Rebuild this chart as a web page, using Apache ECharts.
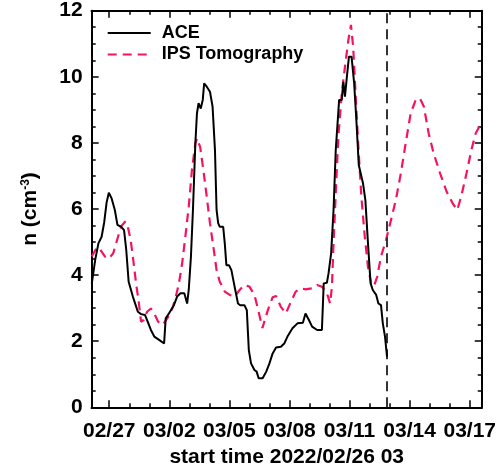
<!DOCTYPE html>
<html>
<head>
<meta charset="utf-8">
<script src="https://cdn.jsdelivr.net/npm/echarts@6/dist/echarts.min.js"></script>
<style>html,body{margin:0;padding:0;background:#fff}#c{width:499px;height:474px}</style>
</head>
<body>
<div id="c"></div>
<script>
// x values: days since 2022/02/26 00:00 (start time 2022/02/26 03)
const aceDays = [0.13,0.3,0.46,0.62,0.75,0.87,0.98,1.12,1.28,1.41,1.6,1.74,1.85,1.97,2.18,2.43,2.59,2.79,2.92,3.08,3.25,3.49,3.74,3.82,3.98,4.23,4.39,4.56,4.75,4.89,4.97,5.08,5.18,5.3,5.38,5.46,5.57,5.67,5.74,5.87,6.03,6.16,6.28,6.36,6.44,6.52,6.69,6.77,6.85,6.98,7.1,7.26,7.43,7.54,7.75,7.87,7.97,8.08,8.25,8.36,8.46,8.66,8.84,9.0,9.16,9.33,9.57,9.74,9.9,10.15,10.4,10.67,10.8,10.97,11.13,11.38,11.62,11.71,11.87,11.95,12.08,12.2,12.31,12.48,12.61,12.69,12.77,12.85,12.9,12.97,13.1,13.23,13.34,13.46,13.67,13.79,13.92,14.05,14.16,14.33,14.44,14.57,14.66,14.77,14.87];
const aceValues = [3.75,4.46,4.96,5.16,5.6,6.2,6.49,6.32,5.97,5.52,5.46,5.36,4.76,3.8,3.35,2.89,2.82,2.79,2.59,2.34,2.14,2.04,1.93,2.69,2.84,3.09,3.35,3.45,3.45,3.14,3.55,4.56,5.97,7.98,8.89,9.2,9.04,9.3,9.8,9.7,9.55,9.1,7.78,5.97,5.57,5.46,5.46,4.96,4.3,4.3,4.15,3.65,3.14,3.09,3.09,2.94,1.73,1.33,1.13,1.08,0.88,0.88,1.08,1.33,1.63,1.81,1.83,1.93,2.14,2.39,2.54,2.56,2.84,2.64,2.44,2.34,2.34,3.75,3.77,4.05,4.66,5.97,7.78,9.3,9.3,9.85,9.4,9.9,10.2,10.61,10.61,9.8,8.69,7.33,6.78,6.27,4.96,3.75,3.55,3.4,3.14,3.09,2.54,2.14,1.53];
const ipsDays = [0.13,0.38,0.54,0.79,0.98,1.2,1.44,1.6,1.8,1.93,2.07,2.18,2.34,2.46,2.59,2.72,2.89,3.08,3.25,3.44,3.66,3.9,4.15,4.31,4.48,4.64,4.8,4.97,5.13,5.3,5.38,5.54,5.7,5.87,6.03,6.2,6.36,6.52,6.77,7.02,7.26,7.51,7.75,8.0,8.25,8.46,8.65,8.92,9.16,9.33,9.57,9.82,10.07,10.31,10.56,10.8,11.13,11.38,11.62,11.87,12.03,12.12,12.2,12.31,12.44,12.61,12.77,12.94,13.07,13.18,13.3,13.43,13.59,13.76,13.92,14.08,14.21,14.38,14.57,14.82,15.07,15.31,15.56,15.8,16.05,16.3,16.51,16.71,16.95,17.2,17.52,17.85,18.15,18.38,18.59,18.84,19.08,19.3,19.58];
const ipsValues = [4.56,4.84,4.78,4.56,4.5,4.66,5.16,5.48,5.62,5.46,5.06,4.56,3.75,3.25,2.59,2.64,2.89,2.99,2.84,2.59,2.49,2.69,2.99,3.3,3.75,4.35,5.16,6.07,7.18,7.98,8.14,7.88,7.18,6.37,5.57,4.86,4.15,3.8,3.5,3.4,3.35,3.55,3.7,3.65,3.4,2.89,2.4,2.94,3.33,3.37,3.04,2.84,3.19,3.5,3.6,3.57,3.6,3.7,3.65,3.45,3.14,3.65,4.96,6.47,8.19,9.5,10.3,11.11,11.57,10.91,9.5,7.98,6.37,5.16,4.25,3.75,3.65,3.95,4.56,5.06,5.67,6.27,7.08,7.98,8.89,9.3,9.35,9.1,8.29,7.68,7.08,6.52,6.17,5.97,6.42,7.08,7.78,8.29,8.6];
const majorTickDays = [1,4,7,10,13,16,19];
const majorTickLabels = ['02/27','03/02','03/05','03/08','03/11','03/14','03/17'];
const minorTickDays = [1,2,3,4,5,6,7,8,9,10,11,12,13,14,15,16,17,18,19];
const markerDay = 14.87;
const yRange = [0, 12];
const xMin = 0.125, xMax = 19.6;
const seriesNames = ['ACE','IPS Tomography'];
const xName = 'start time 2022/02/26 03';

const FONT = "'Liberation Sans', Arial, Helvetica, sans-serif";
const pair = (xs, ys) => xs.map((x, i) => [x, ys[i]]);
const labelMap = {};
majorTickDays.forEach((d, i) => labelMap[d] = majorTickLabels[i]);

function xAx(pos, ticks, len, withLabels) {
  const o = {
    type: 'value', position: pos, min: xMin, max: xMax,
    axisLine: {show: true, onZero: false, lineStyle: {color: '#000', width: 2}},
    axisTick: {show: true, inside: true, length: len, customValues: ticks, lineStyle: {color: '#000', width: 1.5}},
    axisLabel: withLabels ? {show: true, customValues: majorTickDays, margin: 13,
      fontFamily: FONT, fontWeight: 'bold', fontSize: 21, color: '#000',
      formatter: v => labelMap[Math.round(v)] || ''} : {show: false},
    splitLine: {show: false}
  };
  if (withLabels) Object.assign(o, {name: xName, nameLocation: 'middle', nameGap: 39,
    nameTextStyle: {fontFamily: FONT, fontWeight: 'bold', fontSize: 21, color: '#000'}});
  return o;
}
function yAx(pos, withLabels) {
  const o = {
    type: 'value', position: pos, min: yRange[0], max: yRange[1], interval: 2,
    axisLine: {show: true, onZero: false, lineStyle: {color: '#000', width: 2}},
    axisTick: {show: true, inside: true, length: 7, lineStyle: {color: '#000', width: 1.5}},
    minorTick: {show: true, splitNumber: 4, length: 4, lineStyle: {color: '#000', width: 1.5}},
    axisLabel: withLabels ? {show: true, margin: 9, fontFamily: FONT, fontWeight: 'bold', fontSize: 21, color: '#000'} : {show: false},
    splitLine: {show: false}
  };
  if (withLabels) Object.assign(o, {name: 'n (cm{sup|-3})', nameLocation: 'middle', nameGap: 50, nameRotate: 90,
    nameTextStyle: {fontFamily: FONT, fontWeight: 'bold', fontSize: 21, color: '#000',
      rich: {sup: {fontFamily: FONT, fontWeight: 'bold', fontSize: 12, color: '#000', padding: [0, 0, 10, 0]}}}});
  return o;
}

const chart = echarts.init(document.getElementById('c'), null, {renderer: 'canvas'});
chart.setOption({
  animation: false,
  grid: {left: 91.7, right: 12.3, top: 10.7, bottom: 66.7},
  legend: {
    orient: 'vertical', left: 106.7, top: 24, padding: 0, itemWidth: 43, itemHeight: 14, itemGap: 3.5,
    data: seriesNames, itemStyle: {opacity: 0},
    textStyle: {fontFamily: FONT, fontWeight: 'bold', fontSize: 18, color: '#000', lineHeight: 18, padding: [0, 0, 0, 6]}
  },
  xAxis: [xAx('bottom', majorTickDays, 7, true), xAx('bottom', minorTickDays, 4, false),
          xAx('top', majorTickDays, 7, false), xAx('top', minorTickDays, 4, false)],
  yAxis: [yAx('left', true), yAx('right', false)],
  series: [
    {name: seriesNames[1], type: 'line', data: pair(ipsDays, ipsValues), showSymbol: false, symbol: 'none',
     lineStyle: {color: '#f5145a', width: 2.2, type: [9, 6]}, itemStyle: {color: '#f5145a'}},
    {name: 'marker', type: 'line', data: [[markerDay, yRange[0]], [markerDay, yRange[1]]], showSymbol: false, symbol: 'none',
     lineStyle: {color: '#333', width: 2, type: [10, 6]}, itemStyle: {color: '#333'}, silent: true},
    {name: seriesNames[0], type: 'line', data: pair(aceDays, aceValues), showSymbol: false, symbol: 'none',
     lineStyle: {color: '#000', width: 2}, itemStyle: {color: '#000'}}
  ]
});
</script>
</body>
</html>
